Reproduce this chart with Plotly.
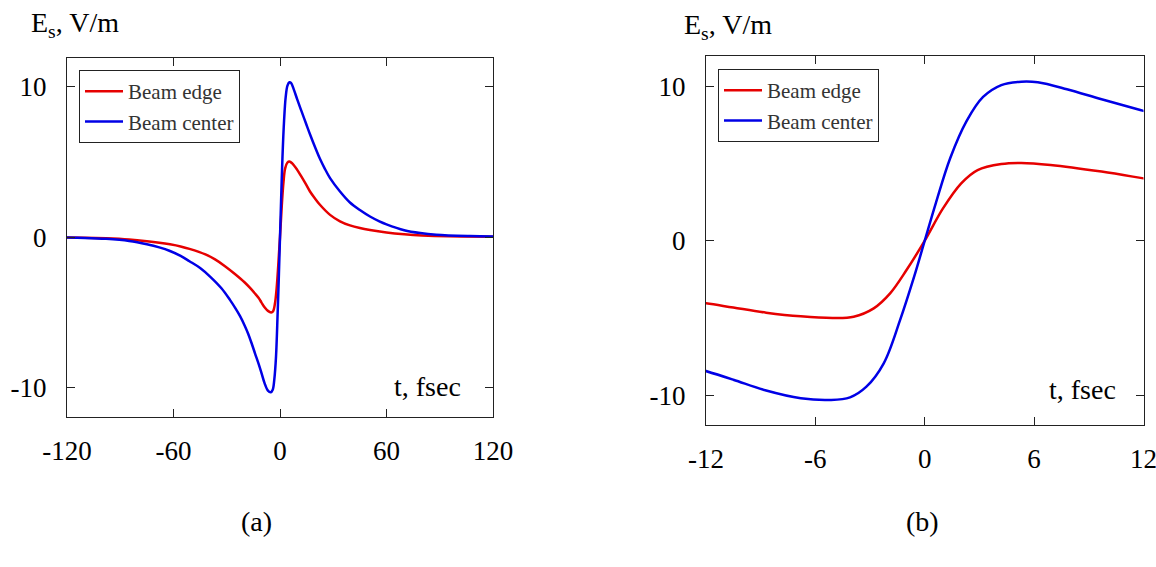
import plotly.graph_objects as go

W, H = 1156, 567

# ---- data ----
t_center = [-120, -110, -98, -85, -75, -68, -62, -56, -51, -45, -39.4, -33, -28.2, -25, -22.5, -20, -18, -16, -14,
            -12, -10.5, -8.7, -6.8, -5.2, -4.1, -3.2, -2.25, -1.35, -0.6, 0, 0.6, 1.4, 2.3, 3.2, 4.2,
            5.3, 6.2, 7.8, 9.7, 12, 14.5, 17, 20, 22.5, 25, 28.2, 33.8, 39.4, 45, 50.7, 56, 60, 70,
            79, 88, 107, 120]
e_center = [-0.03, -0.05, -0.11, -0.25, -0.47, -0.68, -0.92, -1.25, -1.6, -2.05, -2.62, -3.4, -4.17, -4.75, -5.25, -5.85, -6.4, -7.05, -7.75,
            -8.44, -9.0, -9.7, -10.2, -10.31, -10.14, -9.45, -7.94, -5.13, -2.4, 0.0, 2.4, 5.35, 7.75, 9.3, 10.07,
            10.29, 10.25, 9.8, 9.15, 8.4, 7.6, 6.8, 5.9, 5.2, 4.6, 3.92, 3.03, 2.3, 1.8, 1.37, 1.05, 0.85, 0.46,
            0.27, 0.16, 0.07, 0.04]

t_edge = [-120, -110, -98, -85, -75, -68, -62, -56, -51, -42, -36.6, -31, -25.4, -20, -17, -14,
          -12, -10.5, -8.7, -6.8, -5.0, -3.9, -2.8, -1.9, -1.0, 0, 1.0, 2.0, 2.9, 4.2, 5.3, 6.9,
          9.7, 12, 14.5, 16.9, 19.5, 22.5, 28.2, 33.8, 39.4, 45, 50.7, 60, 70, 80, 95, 120]
e_edge = [-0.03, -0.04, -0.08, -0.16, -0.27, -0.37, -0.48, -0.62, -0.78, -1.15, -1.48, -1.93, -2.45, -3.0, -3.36, -3.76,
          -4.05, -4.33, -4.66, -4.9, -5.0, -4.92, -4.38, -3.41, -1.9, 0.0, 2.09, 3.71, 4.57, 4.96, 5.03, 4.9,
          4.47, 4.03, 3.53, 3.03, 2.6, 2.15, 1.48, 1.05, 0.78, 0.6, 0.47, 0.31, 0.19, 0.11, 0.05, 0.03]

xticks_a = [-120, -60, 0, 60, 120]
xlabels_a = ["-120", "-60", "0", "60", "120"]
xticks_b = [-12, -6, 0, 6, 12]
xlabels_b = ["-12", "-6", "0", "6", "12"]
yticks = [-10, 0, 10]
ylabels = ["-10", "0", "10"]

RED = "rgb(230,0,0)"
BLUE = "rgb(0,0,230)"
FONT = "Liberation Serif"

def px_x(p):
    return p / W

def px_y(p):
    return 1 - p / H

fig = go.Figure()
for xa, ya, lg in [("x", "y", "legend"), ("x2", "y2", "legend2")]:
    fig.add_trace(go.Scatter(x=t_edge, y=e_edge, mode="lines", name="Beam edge",
                             line=dict(color=RED, width=2.5, shape="spline", smoothing=1.0),
                             xaxis=xa, yaxis=ya, legend=lg))
    fig.add_trace(go.Scatter(x=t_center, y=e_center, mode="lines", name="Beam center",
                             line=dict(color=BLUE, width=2.5, shape="spline", smoothing=1.0),
                             xaxis=xa, yaxis=ya, legend=lg))

axis_common = dict(showline=True, linecolor="#222", linewidth=1, mirror="ticks",
                   ticks="inside", ticklen=8, tickcolor="#222", tickwidth=1,
                   showgrid=False, zeroline=False, automargin=False, ticklabeloverflow="allow",
                   tickfont=dict(family=FONT, size=27, color="black"))

fig.update_layout(
    width=W, height=H, margin=dict(l=0, r=0, t=0, b=0),
    paper_bgcolor="white", plot_bgcolor="white",
    xaxis=dict(domain=[px_x(67), px_x(493)], range=[-120, 120], tickvals=xticks_a, ticktext=xlabels_a,
               ticklabelstandoff=10, anchor="y", **axis_common),
    yaxis=dict(domain=[px_y(417), px_y(58)], range=[-11.95, 11.9], tickvals=yticks, ticktext=ylabels,
               ticklabelstandoff=14, anchor="x", **axis_common),
    xaxis2=dict(domain=[px_x(706), px_x(1143.5)], range=[-12, 12], tickvals=xticks_b, ticktext=xlabels_b,
                ticklabelstandoff=10, anchor="y2", **axis_common),
    yaxis2=dict(domain=[px_y(425), px_y(55.7)], range=[-11.93, 11.97], tickvals=yticks, ticktext=ylabels,
                ticklabelstandoff=14, anchor="x2", **axis_common),
    legend=dict(x=px_x(79), y=px_y(70), xanchor="left", yanchor="top",
                bordercolor="#222", borderwidth=1, bgcolor="white", itemwidth=38,
                font=dict(family=FONT, size=21, color="#333"), tracegroupgap=0),
    legend2=dict(x=px_x(718), y=px_y(69), xanchor="left", yanchor="top",
                 bordercolor="#222", borderwidth=1, bgcolor="white", itemwidth=38,
                 font=dict(family=FONT, size=21, color="#333"), tracegroupgap=0),
    showlegend=True,
)

ann_font = dict(family=FONT, size=28, color="black")
annotations = [
    dict(text="E<sub>s</sub>, V/m", x=px_x(29), y=px_y(24), xanchor="left", yanchor="middle"),
    dict(text="E<sub>s</sub>, V/m", x=px_x(682), y=px_y(26), xanchor="left", yanchor="middle"),
    dict(text="t, fsec", x=px_x(463), y=px_y(386), xanchor="right", yanchor="middle"),
    dict(text="t, fsec", x=px_x(1118), y=px_y(389), xanchor="right", yanchor="middle"),
    dict(text="(a)", x=px_x(256), y=px_y(521), xanchor="center", yanchor="middle"),
    dict(text="(b)", x=px_x(922), y=px_y(521), xanchor="center", yanchor="middle"),
]
for a in annotations:
    fig.add_annotation(xref="paper", yref="paper", showarrow=False, font=ann_font, **a)

fig.write_html("out.html")
